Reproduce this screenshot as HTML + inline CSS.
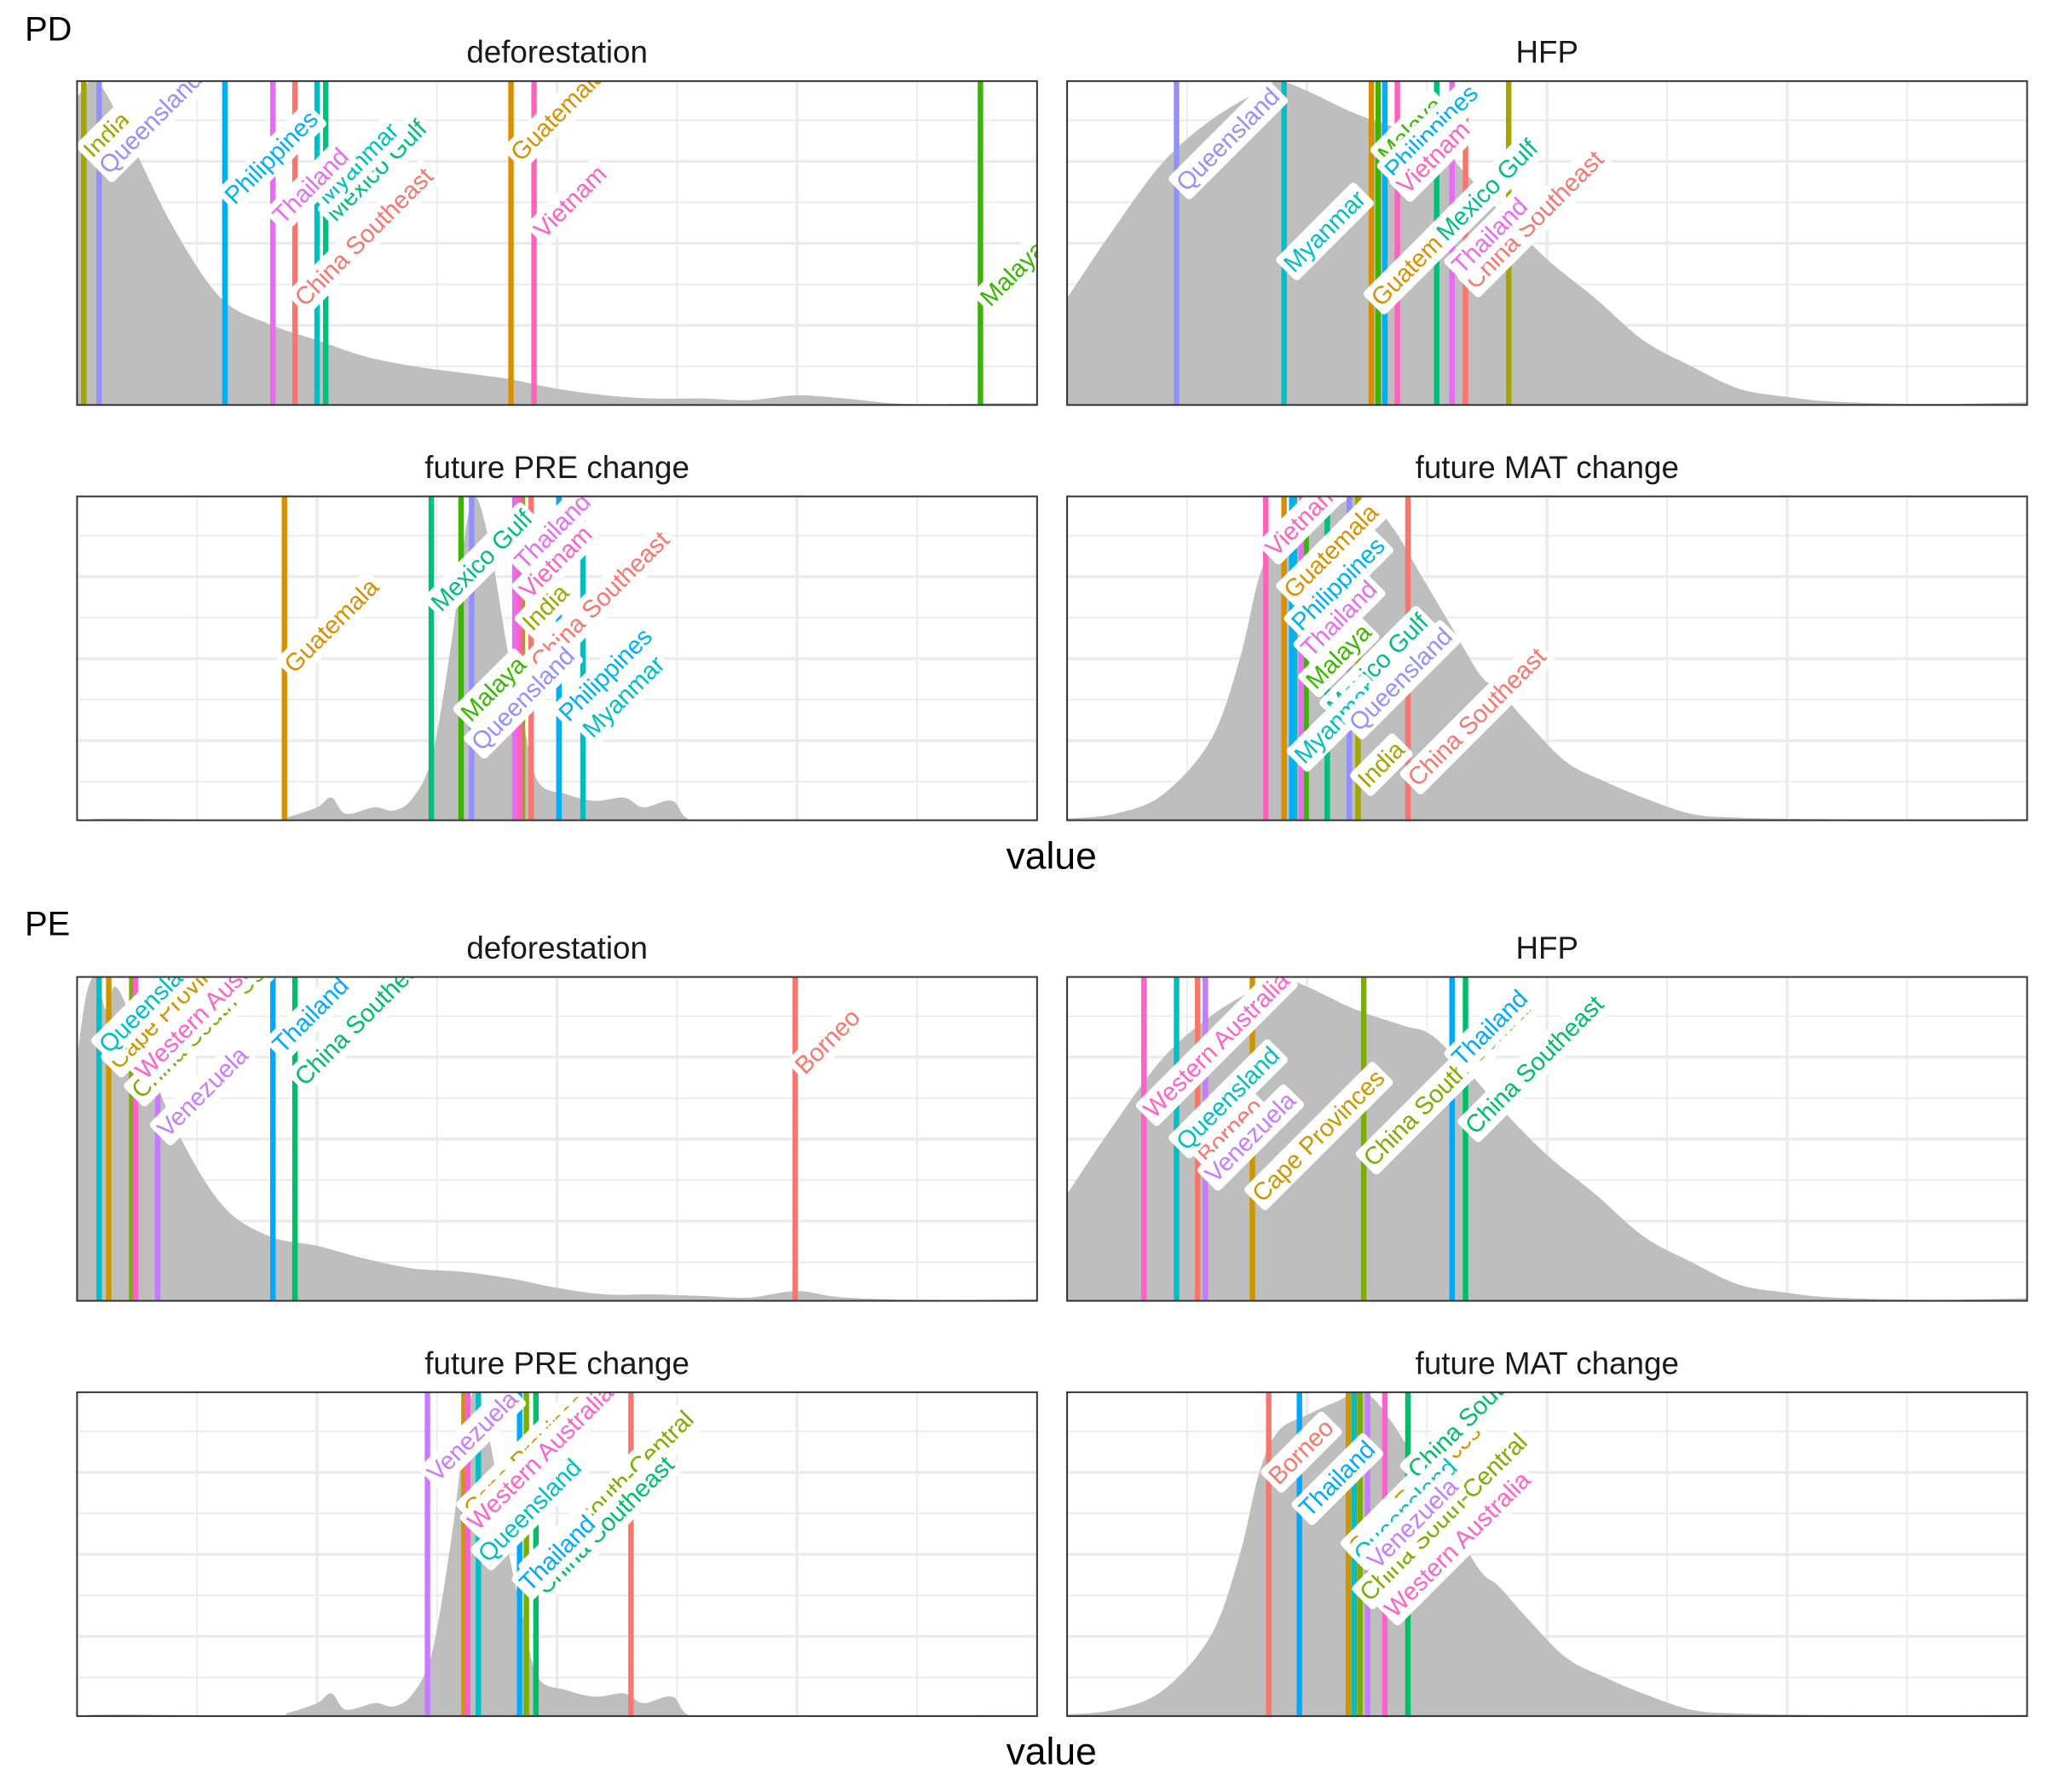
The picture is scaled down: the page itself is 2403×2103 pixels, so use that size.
<!DOCTYPE html>
<html><head><meta charset="utf-8"><style>
html,body{margin:0;padding:0;background:#fff}
svg{display:block;font-family:"Liberation Sans",sans-serif}
</style></head><body>
<svg id="chart" width="2403" height="2103" viewBox="0 0 1568 1372" xmlns="http://www.w3.org/2000/svg">
<rect width="1568" height="1372" fill="#fff"/>
<text x="19" y="31" font-size="26" fill="#000">PD</text>
<text x="19" y="716" font-size="26" fill="#000">PE</text>
<text x="805" y="665" font-size="29" text-anchor="middle" fill="#000">value</text>
<text x="805" y="1351" font-size="29" text-anchor="middle" fill="#000">value</text>
</svg>
<script>
// ---- data ----
const pdRegions = ["China Southeast","Guatemala","India","Malaya","Mexico Gulf","Myanmar","Philippines","Queensland","Thailand","Vietnam"];
const pdColors = ["#F8766D","#D89000","#A3A500","#39B600","#00BF7D","#00BFC4","#00B0F6","#9590FF","#E76BF3","#FF62BC"];
const peRegions = ["Borneo","Cape Provinces","China South-Central","China Southeast","Queensland","Thailand","Venezuela","Western Australia"];
const peColors = ["#F8766D","#CD9600","#7CAE00","#00BE67","#00BFC4","#00A9FF","#C77CFF","#FF61CC"];

const pdDeforValues = [22.7,45.2,0.7,94.1,25.9,25.0,15.4,2.3,20.4,47.6];
const pdDeforLabelY = [0.29,0.738,0.746,0.29,0.552,0.605,0.605,0.698,0.544,0.5];
const pdHfpValues = [41.5,31.7,46.0,32.4,38.5,22.6,33.1,11.4,40.1,34.4];
const pdHfpLabelY = [0.343,0.29,null,0.734,0.492,0.395,0.685,0.645,0.39,0.637];
const pdPreValues = [47.3,21.6,46.4,40.0,36.9,52.7,50.2,41.1,45.6,46.1];
const pdPreLabelY = [0.45,0.44,0.57,0.29,0.63,0.24,0.29,0.20,0.76,0.67];
const pdMatValues = [35.5,22.6,30.3,24.9,27.1,23.7,23.4,29.4,24.4,20.7];
const pdMatLabelY = [0.09,0.67,0.085,0.39,0.31,0.16,0.57,0.26,0.49,0.80];

const peDeforValues = [74.8,3.3,5.7,22.7,2.3,20.4,8.4,6.1];
const peDeforLabelY = [0.685,0.70,0.61,0.65,0.75,0.75,0.49,0.67];
const peHfpValues = [13.6,19.3,30.9,41.5,11.4,40.1,14.4,8.0];
const peHfpLabelY = [0.41,0.29,0.40,0.50,0.45,0.71,0.35,0.55];
const pePreValues = [57.7,40.3,46.8,47.8,41.8,46.1,36.5,40.7];
const pePreLabelY = [0.72,0.60,0.41,0.36,0.46,0.37,0.71,0.56];
const peMatValues = [21.0,29.3,30.5,35.5,29.9,24.2,31.3,33.1];
const peMatLabelY = [0.70,0.48,0.34,0.72,0.46,0.60,0.44,0.29];

const deforDensX = [0,2,5,10,15,20,25,30,35,40,45,50,55,60,65,70,75,80,85,90,95,100];
const deforDensY = [0.95,1.0,0.85,0.55,0.33,0.25,0.2,0.15,0.12,0.1,0.08,0.05,0.03,0.02,0.02,0.015,0.03,0.02,0.005,0.002,0.005,0.005];
const peDeforDensX = [0,1,2,3,4,6,10,15,20,25,30,35,40,45,50,55,60,65,70,75,80,90,100];
const peDeforDensY = [0.75,0.95,1.0,0.9,0.97,0.85,0.55,0.3,0.2,0.17,0.13,0.1,0.09,0.07,0.04,0.02,0.02,0.015,0.01,0.03,0.01,0.002,0.005];
const hfpDensX = [0,5,10,15,20,22,25,30,35,38,42,45,50,55,60,65,70,75,80,90,100];
const hfpDensY = [0.33,0.55,0.75,0.88,0.97,1.0,0.97,0.9,0.85,0.82,0.7,0.6,0.45,0.33,0.2,0.12,0.05,0.025,0.01,0.003,0.008];
const preDensX = [0,4,20,22,25,26.5,28,31,33,35,37,39,40.5,41.5,43,45,46.5,48,51,54,57,59,62,64,70,100];
const preDensY = [0,0.005,0,0.01,0.04,0.07,0.02,0.04,0.03,0.07,0.2,0.55,0.9,1.0,0.85,0.5,0.3,0.12,0.08,0.06,0.07,0.04,0.06,0,0.002,0.003];
const matDensX = [0,5,10,15,18,20,22,25,28,31,34,37,40,43,45,48,52,56,60,65,70,80,90,100];
const matDensY = [0.005,0.02,0.08,0.25,0.5,0.75,0.88,0.93,0.97,1.0,0.9,0.75,0.6,0.45,0.4,0.3,0.18,0.12,0.07,0.02,0.008,0.003,0.002,0.004];

const panelTitles = ["deforestation","HFP","future PRE change","future MAT change"];

// ---- layout ----
const svg = document.getElementById('chart');
const NS = 'http://www.w3.org/2000/svg';
const colX = [59,817], PW = 735, PH = 248;
const rowY = [62,380,748,1066];

function mk(tag, attrs, parent){
  const e = document.createElementNS(NS, tag);
  for (const k in attrs) e.setAttribute(k, attrs[k]);
  (parent||svg).appendChild(e);
  return e;
}

function smoothPath(pts){
  let d = '';
  for (let i=0;i<pts.length-1;i++){
    const p0 = pts[Math.max(0,i-1)], p1 = pts[i], p2 = pts[i+1], p3 = pts[Math.min(pts.length-1,i+2)];
    const c1x = p1[0] + (p2[0]-p0[0])/6, c1y = p1[1] + (p2[1]-p0[1])/6;
    const c2x = p2[0] - (p3[0]-p1[0])/6, c2y = p2[1] - (p3[1]-p1[1])/6;
    d += ' C' + c1x + ',' + c1y + ' ' + c2x + ',' + c2y + ' ' + p2[0] + ',' + p2[1];
  }
  return d;
}

let clipId = 0;
function panel(px, py, title, densX, densY, regions, colors, values, labelY, key){
  const xs = v => px + v/100*PW;
  const ys = v => py + PH - v*PH;
  const g = mk('g', {});
  
  
  const t = mk('text', {x: px+PW/2, y: py-14, 'font-size': 24, 'text-anchor':'middle', fill:'#1a1a1a'}, g);
  t.textContent = title;
  
  
  const cid = 'clip' + (clipId++);
  const cp = mk('clipPath', {id: cid}, g);
  mk('rect', {x:px, y:py, width:PW, height:PH}, cp);
  const inner = mk('g', {'clip-path': 'url(#'+cid+')'}, g);
  for (let i=1;i<8;i++){
    const gx = px + i*PW/8;
    const gl = mk('line', {x1:gx, x2:gx, y1:py, y2:py+PH, stroke:'#ebebeb', 'stroke-width': i%2? 1.2:2.2}, inner);
    
    
  }
  for (let i=1;i<8;i++){
    const gy = py + 30 + (i-1)*31.4;
    const gl = mk('line', {x1:px, x2:px+PW, y1:gy, y2:gy, stroke:'#ebebeb', 'stroke-width': i%2? 1.2:2.2}, inner);
    
    
  }
  const pts = densX.map((x,i)=>[xs(x), ys(densY[i])]);
  let d = 'M' + xs(densX[0]) + ',' + ys(0) + ' L' + pts[0][0] + ',' + pts[0][1] + smoothPath(pts);
  d += ' L' + xs(densX[densX.length-1]) + ',' + ys(0) + ' Z';
  const dp = mk('path', {d: d, fill:'#bebebe', stroke:'none'}, inner);
  
  
  regions.forEach((r,i)=>{
    const ln = mk('line', {x1: xs(values[i]), x2: xs(values[i]), y1: py, y2: py+PH, stroke: colors[i], 'stroke-width': 4.2}, inner);
    
    
  });
  regions.forEach((r,i)=>{
    if (labelY[i] === null) return;
    const lg = mk('g', {transform: 'translate(' + (xs(values[i]) + 9) + ',' + (ys(labelY[i]) + 3) + ') rotate(-45)'}, inner);
    
    
    const tx = mk('text', {x: 3, y: -5, 'font-size': 19, fill: colors[i]}, lg);
    tx.textContent = r;
    const w = tx.getComputedTextLength();
    const rc = mk('rect', {x: 0, y: -23, width: w+6, height: 24, rx: 3, fill: '#fff'}, lg);
    lg.insertBefore(rc, tx);
  });
  const bd = mk('rect', {x:px, y:py, width:PW, height:PH, fill:'none', stroke:'#333', 'stroke-width':1.3}, g);
  
  
}

panel(colX[0], rowY[0], panelTitles[0], deforDensX, deforDensY, pdRegions, pdColors, pdDeforValues, pdDeforLabelY, 'pd-deforestation');
panel(colX[1], rowY[0], panelTitles[1], hfpDensX, hfpDensY, pdRegions, pdColors, pdHfpValues, pdHfpLabelY, 'pd-hfp');
panel(colX[0], rowY[1], panelTitles[2], preDensX, preDensY, pdRegions, pdColors, pdPreValues, pdPreLabelY, 'pd-pre');
panel(colX[1], rowY[1], panelTitles[3], matDensX, matDensY, pdRegions, pdColors, pdMatValues, pdMatLabelY, 'pd-mat');
panel(colX[0], rowY[2], panelTitles[0], peDeforDensX, peDeforDensY, peRegions, peColors, peDeforValues, peDeforLabelY, 'pe-deforestation');
panel(colX[1], rowY[2], panelTitles[1], hfpDensX, hfpDensY, peRegions, peColors, peHfpValues, peHfpLabelY, 'pe-hfp');
panel(colX[0], rowY[3], panelTitles[2], preDensX, preDensY, peRegions, peColors, pePreValues, pePreLabelY, 'pe-pre');
panel(colX[1], rowY[3], panelTitles[3], matDensX, matDensY, peRegions, peColors, peMatValues, peMatLabelY, 'pe-mat');
</script>
</body></html>
